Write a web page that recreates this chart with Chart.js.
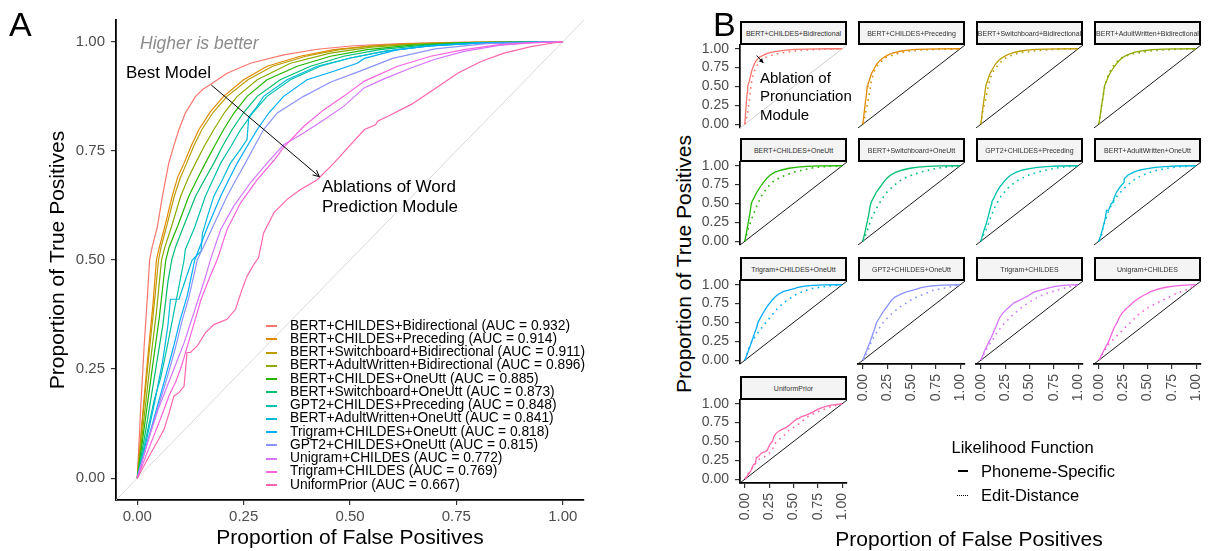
<!DOCTYPE html>
<html>
<head>
<meta charset="utf-8">
<script src="https://cdn.jsdelivr.net/npm/chart.js@4.4.1/dist/chart.umd.min.js"></script>
<style>
html,body{margin:0;padding:0;background:#fff;}
body{position:relative;width:1213px;height:551px;overflow:hidden;font-family:"Liberation Sans",Arial,Helvetica,sans-serif;color:#000;}
canvas{position:absolute;}
.t{position:absolute;white-space:nowrap;z-index:5;}
.strip{position:absolute;box-sizing:border-box;border:2px solid #000;background:#f4f4f4;font-size:7px;color:#333;display:flex;align-items:center;justify-content:center;white-space:nowrap;overflow:hidden;z-index:4;-webkit-font-smoothing:antialiased;}
.key{position:absolute;z-index:5;}
</style>
</head>
<body>
<div class="t" style="left:9px;top:7px;font-size:34px;line-height:34px;">A</div>
<div class="t" style="left:713px;top:7px;font-size:34px;line-height:34px;">B</div>
<div class="t" style="left:140px;top:35px;font-size:17.5px;line-height:17.5px;font-style:italic;color:#8c8c8c;">Higher is better</div>
<div class="t" style="left:126px;top:64px;font-size:17px;line-height:17px;">Best Model</div>
<div class="t" style="left:322px;top:177px;font-size:17px;line-height:19.5px;">Ablations of Word<br>Prediction Module</div>
<div class="t" style="left:760px;top:69px;font-size:15px;line-height:18.4px;">Ablation of<br>Pronunciation<br>Module</div>
<div class="t" style="left:683px;top:264px;font-size:21px;line-height:21px;transform:translate(-50%,-50%) rotate(-90deg);">Proportion of True Positives</div>
<div class="t" style="left:969px;top:538px;font-size:21px;line-height:21px;transform:translate(-50%,-50%);">Proportion of False Positives</div>
<div class="t" style="left:951.5px;top:438.5px;font-size:16.5px;line-height:16.5px;">Likelihood Function</div>
<div class="key" style="left:958px;top:470px;width:10px;height:2px;background:#000;"></div>
<div class="key" style="left:957px;top:494.5px;width:11px;height:0;border-top:1.5px dotted #000;"></div>
<div class="t" id="lk0" style="left:981px;top:463px;font-size:16.5px;line-height:16.5px;"></div>
<div class="t" id="lk1" style="left:981px;top:487px;font-size:16.5px;line-height:16.5px;"></div>
<script>
// ---------------- data ----------------
const modelNames = ["BERT+CHILDES+Bidirectional","BERT+CHILDES+Preceding","BERT+Switchboard+Bidirectional","BERT+AdultWritten+Bidirectional","BERT+CHILDES+OneUtt","BERT+Switchboard+OneUtt","GPT2+CHILDES+Preceding","BERT+AdultWritten+OneUtt","Trigram+CHILDES+OneUtt","GPT2+CHILDES+OneUtt","Unigram+CHILDES","Trigram+CHILDES","UniformPrior"];
const aucValues = [0.932,0.914,0.911,0.896,0.885,0.873,0.848,0.841,0.818,0.815,0.772,0.769,0.667];
const facetNames = ["BERT+CHILDES+Bidirectional","BERT+CHILDES+Preceding","BERT+Switchboard+Bidirectional","BERT+AdultWritten+Bidirectional","BERT+CHILDES+OneUtt","BERT+Switchboard+OneUtt","GPT2+CHILDES+Preceding","BERT+AdultWritten+OneUtt","Trigram+CHILDES+OneUtt","GPT2+CHILDES+OneUtt","Trigram+CHILDES","Unigram+CHILDES","UniformPrior"];
const likelihoodLabels = ["Phoneme-Specific","Edit-Distance"];
const tickValues = [0, 0.25, 0.5, 0.75, 1];
const axisMin = -0.05, axisMax = 1.05;

// Phoneme-Specific ROC curves [FPR, TPR]
const roc01 = [[0,0],[0.008,0.16],[0.016,0.3],[0.024,0.42],[0.029,0.5],[0.035,0.53],[0.047,0.575],[0.059,0.646],[0.074,0.722],[0.087,0.765],[0.098,0.799],[0.113,0.837],[0.137,0.875],[0.155,0.892],[0.172,0.902],[0.211,0.928],[0.266,0.951],[0.344,0.97],[0.423,0.983],[0.509,0.991],[0.62,0.996],[0.75,0.999],[0.88,1],[1,1]];
const roc02 = [[0,0],[0.012,0.14],[0.025,0.28],[0.037,0.4],[0.045,0.5],[0.052,0.53],[0.063,0.57],[0.082,0.646],[0.095,0.69],[0.11,0.722],[0.127,0.762],[0.145,0.799],[0.172,0.84],[0.203,0.875],[0.25,0.913],[0.305,0.944],[0.383,0.967],[0.462,0.982],[0.55,0.991],[0.65,0.996],[0.78,0.999],[1,1]];
const roc03 = [[0,0],[0.013,0.14],[0.027,0.28],[0.04,0.4],[0.05,0.5],[0.056,0.53],[0.067,0.57],[0.087,0.646],[0.101,0.688],[0.116,0.722],[0.133,0.762],[0.152,0.799],[0.178,0.838],[0.211,0.875],[0.26,0.913],[0.318,0.944],[0.396,0.967],[0.475,0.982],[0.56,0.991],[0.66,0.996],[0.8,0.999],[1,1]];
const roc04 = [[0,0],[0.015,0.13],[0.03,0.26],[0.045,0.38],[0.057,0.5],[0.065,0.53],[0.08,0.575],[0.102,0.646],[0.119,0.686],[0.137,0.722],[0.158,0.762],[0.18,0.799],[0.205,0.838],[0.235,0.875],[0.282,0.913],[0.36,0.951],[0.454,0.974],[0.55,0.988],[0.66,0.995],[0.8,0.999],[1,1]];
const roc05 = [[0,0],[0.017,0.12],[0.035,0.25],[0.052,0.37],[0.067,0.5],[0.075,0.53],[0.095,0.578],[0.121,0.646],[0.14,0.684],[0.16,0.722],[0.182,0.762],[0.203,0.799],[0.228,0.838],[0.258,0.875],[0.305,0.913],[0.376,0.944],[0.454,0.967],[0.54,0.982],[0.64,0.992],[0.77,0.998],[1,1]];
const roc06 = [[0,0],[0.02,0.11],[0.04,0.23],[0.06,0.35],[0.072,0.45],[0.081,0.5],[0.09,0.53],[0.108,0.575],[0.137,0.646],[0.158,0.684],[0.18,0.722],[0.2,0.76],[0.223,0.799],[0.25,0.838],[0.282,0.875],[0.336,0.913],[0.407,0.944],[0.485,0.967],[0.57,0.982],[0.67,0.992],[0.8,0.998],[1,1]];
const roc07 = [[0,0],[0.02,0.09],[0.04,0.18],[0.055,0.23],[0.07,0.3],[0.09,0.4],[0.11,0.5],[0.113,0.524],[0.135,0.575],[0.16,0.646],[0.178,0.684],[0.196,0.722],[0.22,0.76],[0.243,0.799],[0.272,0.838],[0.305,0.875],[0.36,0.913],[0.43,0.944],[0.501,0.963],[0.58,0.978],[0.68,0.99],[0.8,0.997],[1,1]];
const roc08 = [[0,0],[0.02,0.08],[0.04,0.17],[0.06,0.27],[0.072,0.35],[0.078,0.41],[0.098,0.41],[0.115,0.46],[0.129,0.5],[0.15,0.52],[0.153,0.56],[0.165,0.6],[0.18,0.646],[0.2,0.684],[0.219,0.722],[0.24,0.75],[0.258,0.776],[0.262,0.828],[0.28,0.85],[0.297,0.875],[0.352,0.913],[0.423,0.944],[0.501,0.963],[0.58,0.978],[0.68,0.99],[0.8,0.997],[1,1]];
const roc09 = [[0,0],[0.02,0.07],[0.04,0.14],[0.063,0.22],[0.085,0.3],[0.1,0.36],[0.118,0.42],[0.135,0.5],[0.165,0.575],[0.196,0.646],[0.215,0.684],[0.235,0.722],[0.258,0.76],[0.282,0.799],[0.31,0.838],[0.344,0.875],[0.399,0.913],[0.46,0.932],[0.517,0.951],[0.534,0.962],[0.612,0.982],[0.7,0.992],[0.82,0.998],[1,1]];
const roc10 = [[0,0],[0.02,0.07],[0.045,0.15],[0.07,0.23],[0.09,0.3],[0.105,0.36],[0.12,0.41],[0.132,0.46],[0.141,0.5],[0.17,0.56],[0.211,0.646],[0.232,0.684],[0.254,0.722],[0.275,0.76],[0.297,0.799],[0.329,0.837],[0.391,0.875],[0.455,0.908],[0.516,0.93],[0.6,0.962],[0.7,0.984],[0.82,0.996],[1,1]];
const roc11 = [[0,0],[0.015,0.05],[0.03,0.1],[0.05,0.16],[0.07,0.21],[0.09,0.26],[0.11,0.31],[0.13,0.37],[0.15,0.43],[0.163,0.47],[0.172,0.501],[0.196,0.57],[0.227,0.624],[0.266,0.677],[0.305,0.722],[0.344,0.764],[0.391,0.791],[0.438,0.821],[0.485,0.852],[0.534,0.895],[0.58,0.915],[0.643,0.94],[0.7,0.96],[0.768,0.978],[0.85,0.992],[0.93,0.998],[1,1]];
const roc12 = [[0,0],[0.02,0.05],[0.04,0.1],[0.06,0.15],[0.075,0.19],[0.09,0.22],[0.105,0.26],[0.12,0.31],[0.135,0.36],[0.15,0.41],[0.17,0.46],[0.188,0.501],[0.211,0.57],[0.243,0.631],[0.282,0.684],[0.321,0.728],[0.344,0.758],[0.391,0.806],[0.438,0.844],[0.485,0.875],[0.534,0.91],[0.612,0.944],[0.69,0.967],[0.768,0.982],[0.847,0.993],[0.93,0.998],[1,1]];
const roc13 = [[0,0],[0.025,0.045],[0.045,0.08],[0.063,0.112],[0.075,0.15],[0.086,0.188],[0.098,0.196],[0.11,0.211],[0.117,0.288],[0.125,0.288],[0.141,0.303],[0.16,0.333],[0.18,0.352],[0.211,0.364],[0.231,0.387],[0.246,0.432],[0.258,0.463],[0.274,0.49],[0.285,0.505],[0.297,0.562],[0.321,0.608],[0.352,0.639],[0.383,0.661],[0.423,0.684],[0.462,0.722],[0.501,0.764],[0.534,0.799],[0.56,0.81],[0.565,0.818],[0.588,0.829],[0.643,0.856],[0.69,0.886],[0.753,0.928],[0.808,0.955],[0.862,0.974],[0.925,0.989],[0.988,0.999],[1,1]];

// Edit-Distance ROC curves [FPR, TPR]
const edit01 = [[0,0],[0.02,0.1],[0.033,0.185],[0.05,0.36],[0.066,0.54],[0.08,0.63],[0.1,0.71],[0.13,0.79],[0.166,0.846],[0.21,0.885],[0.265,0.91],[0.34,0.935],[0.43,0.956],[0.55,0.975],[0.7,0.987],[0.85,0.996],[1,1]];
const edit02 = [[0,0],[0.02,0.1],[0.034,0.185],[0.061,0.36],[0.085,0.56],[0.112,0.69],[0.135,0.75],[0.162,0.8],[0.23,0.88],[0.35,0.934],[0.48,0.97],[0.6,0.983],[0.72,0.99],[0.86,0.997],[1,1]];
const edit03 = [[0,0],[0.021,0.185],[0.055,0.36],[0.082,0.54],[0.1,0.62],[0.122,0.69],[0.173,0.78],[0.241,0.868],[0.3,0.905],[0.359,0.934],[0.45,0.956],[0.529,0.969],[0.65,0.984],[0.8,0.995],[1,1]];
const edit04 = [[0,0],[0.012,0.1],[0.025,0.229],[0.042,0.361],[0.066,0.537],[0.09,0.63],[0.111,0.692],[0.162,0.802],[0.23,0.881],[0.35,0.934],[0.52,0.969],[0.68,0.986],[0.84,0.996],[1,1]];
const edit05 = [[0,0],[0.034,0.16],[0.068,0.29],[0.113,0.44],[0.171,0.6],[0.223,0.7],[0.29,0.79],[0.377,0.856],[0.514,0.92],[0.72,0.978],[0.88,0.995],[1,1]];
const edit06 = [[0,0],[0.034,0.1],[0.061,0.2],[0.095,0.32],[0.146,0.45],[0.196,0.56],[0.247,0.65],[0.315,0.735],[0.38,0.8],[0.45,0.85],[0.52,0.885],[0.62,0.925],[0.72,0.955],[0.86,0.985],[1,1]];
const edit07 = [[0,0],[0.02,0.06],[0.045,0.13],[0.072,0.21],[0.106,0.335],[0.156,0.487],[0.207,0.596],[0.275,0.704],[0.359,0.791],[0.43,0.84],[0.495,0.878],[0.6,0.92],[0.698,0.952],[0.82,0.98],[1,1]];
const edit08 = [[0,0],[0.025,0.074],[0.04,0.16],[0.059,0.248],[0.094,0.378],[0.145,0.53],[0.213,0.639],[0.298,0.748],[0.384,0.835],[0.45,0.875],[0.52,0.909],[0.6,0.94],[0.691,0.965],[0.83,0.988],[1,1]];
const edit09 = [[0,0],[0.036,0.14],[0.071,0.249],[0.106,0.314],[0.157,0.402],[0.209,0.489],[0.279,0.598],[0.348,0.707],[0.434,0.795],[0.538,0.882],[0.677,0.948],[0.85,0.983],[1,1]];
const edit10 = [[0,0],[0.035,0.074],[0.062,0.162],[0.095,0.271],[0.146,0.38],[0.214,0.511],[0.298,0.62],[0.383,0.707],[0.518,0.817],[0.722,0.926],[0.925,0.978],[1,1]];
const edit11 = [[0,0],[0.038,0.096],[0.072,0.183],[0.122,0.271],[0.173,0.38],[0.241,0.489],[0.326,0.598],[0.427,0.707],[0.529,0.795],[0.664,0.882],[0.833,0.948],[1,1]];
const edit12 = [[0,0],[0.042,0.096],[0.094,0.205],[0.162,0.293],[0.247,0.402],[0.333,0.511],[0.418,0.62],[0.52,0.707],[0.657,0.795],[0.794,0.882],[0.93,0.948],[1,1]];
const edit13 = [[0,0],[0.034,0.079],[0.084,0.167],[0.135,0.254],[0.2,0.298],[0.27,0.364],[0.32,0.496],[0.387,0.56],[0.455,0.649],[0.54,0.715],[0.64,0.825],[0.74,0.89],[0.875,0.956],[1,1]];

// ---------------- styles ----------------
const seriesColors = ["#F8766D","#E18A00","#BE9C00","#8CAB00","#24B700","#00BE70","#00C1AB","#00BBDA","#00ACFC","#8B93FF","#D575FE","#F962DD","#FF65AC"];
const phonemeCurves = [roc01,roc02,roc03,roc04,roc05,roc06,roc07,roc08,roc09,roc10,roc11,roc12,roc13];
const editCurves = [edit01,edit02,edit03,edit04,edit05,edit06,edit07,edit08,edit09,edit10,edit11,edit12,edit13];

Chart.defaults.font.family = '"Liberation Sans", Arial, Helvetica, sans-serif';

function toXY(arr){ return arr.map(p => ({x:p[0], y:p[1]})); }
function setTicks(scale){ scale.ticks = tickValues.map(v => ({value:v})); }
function fmt(v){ return Number(v).toFixed(2); }
function fixSize(w, h){
  return function(scale){
    if (w !== null) scale.width = w;
    if (h !== null) scale.height = h;
    scale.paddingLeft = 0; scale.paddingRight = 0; scale.paddingTop = 0; scale.paddingBottom = 0;
  };
}
function makeCanvas(left, top, w, h){
  const c = document.createElement('canvas');
  c.width = w; c.height = h;
  c.style.left = left + 'px'; c.style.top = top + 'px';
  c.style.width = w + 'px'; c.style.height = h + 'px';
  document.body.appendChild(c);
  return c;
}
function diagData(){ return [{x:axisMin, y:axisMin},{x:axisMax, y:axisMax}]; }
function arrowPlugin(id, from, to, headLen, filled){
  return {id:id, afterDatasetsDraw(chart){
    const ctx = chart.ctx, sx = chart.scales.x, sy = chart.scales.y;
    const x1 = sx.getPixelForValue(from[0]), y1 = sy.getPixelForValue(from[1]);
    const x2 = sx.getPixelForValue(to[0]), y2 = sy.getPixelForValue(to[1]);
    const a = Math.atan2(y2 - y1, x2 - x1);
    ctx.save();
    ctx.strokeStyle = '#000'; ctx.fillStyle = '#000'; ctx.lineWidth = 1;
    ctx.beginPath(); ctx.moveTo(x1, y1); ctx.lineTo(x2, y2); ctx.stroke();
    ctx.beginPath();
    ctx.moveTo(x2 - headLen*Math.cos(a - 0.45), y2 - headLen*Math.sin(a - 0.45));
    ctx.lineTo(x2, y2);
    ctx.lineTo(x2 - headLen*Math.cos(a + 0.45), y2 - headLen*Math.sin(a + 0.45));
    if (filled) { ctx.closePath(); ctx.fill(); } else { ctx.stroke(); }
    ctx.restore();
  }};
}

// ---------------- Panel A ----------------
const cA = makeCanvas(0, 0, 600, 551);
new Chart(cA, {
  type: 'line',
  data: { datasets: [
    {data: diagData(), borderColor:'#cfcfcf', borderWidth:0.8, order:99}
  ].concat(phonemeCurves.map((c, i) => ({
    label: modelNames[i], data: toXY(c), borderColor: seriesColors[i], borderWidth: 1.2, order: 12 - i
  }))) },
  options: {
    responsive:false, animation:false, devicePixelRatio:1, events:[],
    layout:{padding:{left:45, top:20, right:16, bottom:0}},
    elements:{point:{radius:0}, line:{tension:0, fill:false}},
    plugins:{legend:{display:false}, tooltip:{enabled:false}},
    scales:{
      x:{type:'linear', min:axisMin, max:axisMax, afterBuildTicks:setTicks, afterFit:fixSize(null, 51),
        ticks:{autoSkip:false, maxRotation:0, minRotation:0, padding:3, color:'#4d4d4d', font:{size:15}, callback:fmt},
        grid:{display:true, drawOnChartArea:false, drawTicks:true, tickLength:5, color:'#333', lineWidth:1.2},
        border:{display:true, color:'#000', width:1.8},
        title:{display:true, text:'Proportion of False Positives', color:'#000', font:{size:21}, padding:{top:0, bottom:0}}},
      y:{type:'linear', min:axisMin, max:axisMax, afterBuildTicks:setTicks, afterFit:fixSize(71, null),
        ticks:{autoSkip:false, padding:6, color:'#4d4d4d', font:{size:15}, callback:fmt},
        grid:{display:true, drawOnChartArea:false, drawTicks:true, tickLength:5, color:'#333', lineWidth:1.2},
        border:{display:true, color:'#000', width:1.8},
        title:{display:true, text:'Proportion of True Positives', color:'#000', font:{size:21}, padding:{top:1, bottom:0}}}
    }
  },
  plugins:[arrowPlugin('arrA', [0.174, 0.901], [0.428, 0.691], 7, false)]
});

// Panel A legend
modelNames.forEach((name, i) => {
  const cy = 326 + i * 13.25;
  const k = document.createElement('div');
  k.className = 'key';
  k.style.cssText = 'left:266px;top:' + (cy - 1) + 'px;width:11px;height:2px;background:' + seriesColors[i] + ';';
  document.body.appendChild(k);
  const t = document.createElement('div');
  t.className = 't';
  t.style.cssText = 'left:290px;top:' + (cy - 7.4) + 'px;font-size:13.8px;line-height:13.8px;';
  t.textContent = name + ' (AUC = ' + aucValues[i].toFixed(3) + ')';
  document.body.appendChild(t);
});
document.getElementById('lk0').textContent = likelihoodLabels[0];
document.getElementById('lk1').textContent = likelihoodLabels[1];

// ---------------- Panel B facets ----------------
const colLefts = [740, 858, 976, 1094];
const rowTops = [45, 162, 281, 400];
const PW = 107, PH = 83, LM = 45, TM = 10, RM = 8, BM = 46;

facetNames.forEach((fname, f) => {
  const row = Math.floor(f / 4), col = f % 4;
  const showY = col === 0;
  const showX = (row === 2 && col >= 1) || (row === 3 && col === 0);
  const cv = makeCanvas(colLefts[col] - LM, rowTops[row] - TM, LM + PW + RM, TM + PH + BM);
  const plugins = [];
  if (f === 0) plugins.push(arrowPlugin('arrB', [0.122, 0.911], [0.191, 0.81], 5, true));
  new Chart(cv, {
    type:'line',
    data:{datasets:[
      {data: diagData(), borderColor: f === 0 ? '#c9c9c9' : '#000', borderWidth:0.9, order:3},
      {label: likelihoodLabels[1], data: toXY(editCurves[f]), borderColor: seriesColors[f], borderWidth:1.6, borderDash:[1.6, 4.4], order:2},
      {label: likelihoodLabels[0], data: toXY(phonemeCurves[f]), borderColor: seriesColors[f], borderWidth:1.3, order:1}
    ]},
    options:{
      responsive:false, animation:false, devicePixelRatio:1, events:[],
      layout:{padding:{left:0, top:TM, right:RM, bottom:0}},
      elements:{point:{radius:0}, line:{tension:0, fill:false}},
      plugins:{legend:{display:false}, tooltip:{enabled:false}},
      scales:{
        x:{type:'linear', min:axisMin, max:axisMax, afterBuildTicks:setTicks, afterFit:fixSize(null, BM),
          ticks:{display:showX, autoSkip:false, minRotation:90, maxRotation:90, padding:5, color:'#4d4d4d', font:{size:14}, callback:fmt},
          grid:{display:showX, drawOnChartArea:false, drawTicks:true, tickLength:5, color:'#333', lineWidth:1.2},
          border:{display:showX, color:'#000', width:1.7}},
        y:{type:'linear', min:axisMin, max:axisMax, afterBuildTicks:setTicks, afterFit:fixSize(LM, null),
          ticks:{display:showY, autoSkip:false, padding:6, color:'#4d4d4d', font:{size:14}, callback:fmt},
          grid:{display:showY, drawOnChartArea:false, drawTicks:true, tickLength:5, color:'#333', lineWidth:1.2},
          border:{display:showY, color:'#000', width:1.7}}
      }
    },
    plugins: plugins
  });
  const s = document.createElement('div');
  s.className = 'strip';
  s.style.left = colLefts[col] + 'px';
  s.style.top = (rowTops[row] - 24) + 'px';
  s.style.width = PW + 'px';
  s.style.height = '24px';
  s.textContent = fname;
  document.body.appendChild(s);
});
</script>
</body>
</html>
